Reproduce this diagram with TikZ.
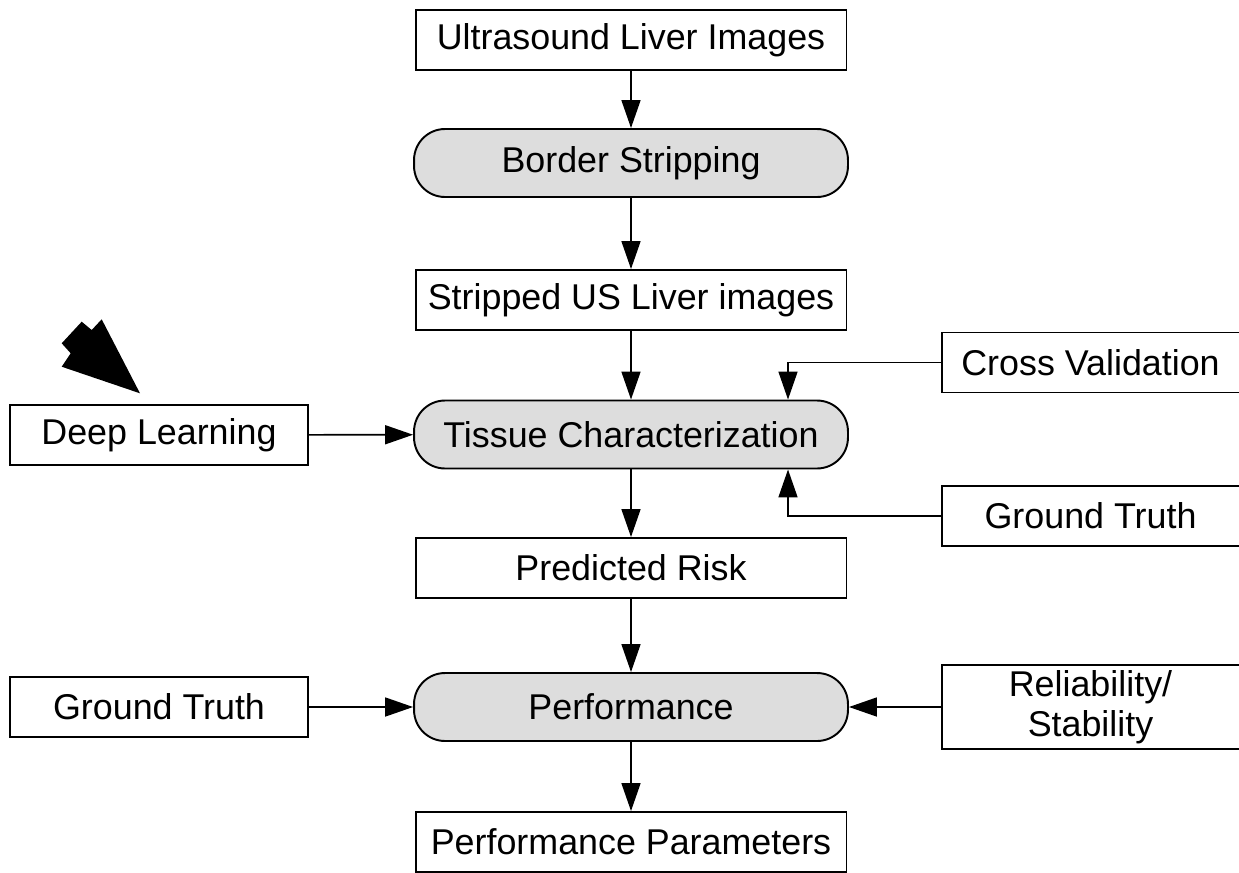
\documentclass[tikz,border=0pt]{standalone}
\usepackage{fontspec}
\setmainfont{Liberation Sans}
\usetikzlibrary{arrows.meta,calc}
\definecolor{procgray}{RGB}{221,221,221}
\tikzset{
  boxnode/.style={draw=black, line width=1.1pt, fill=white, minimum width=8.62cm, minimum height=1.2cm, inner sep=0pt, font=\fontsize{20.4}{23}\selectfont},
  sidebox/.style={boxnode, minimum width=5.96cm},
  procnode/.style={draw=black, line width=1.1pt, fill=procgray, rounded corners=0.62cm, minimum width=8.68cm, minimum height=1.36cm, inner sep=0pt, font=\fontsize{20.4}{23}\selectfont},
  arr/.style={line width=0.95pt, -{Triangle[length=0.56cm, width=0.38cm]}}
}
\begin{document}
\begin{tikzpicture}[x=0.02cm, y=-0.02cm]
\useasboundingbox (0,0) rectangle (1239,872);
% main column
\node[boxnode] (U) at (631,40) {Ultrasound Liver Images};
\node[procnode] (B) at (631,163) {Border Stripping};
\node[boxnode] (S) at (631,300) {Stripped US Liver images};
\node[procnode] (T) at (631,434.5) {Tissue Characterization};
\node[boxnode] (P) at (631,568) {Predicted Risk};
\node[procnode] (F) at (631,707) {Performance};
\node[boxnode] (PP) at (631,842) {Performance Parameters};
% side boxes
\node[sidebox] (DL) at (159,435) {Deep Learning};
\node[sidebox] (GL) at (159,707) {Ground Truth};
\node[sidebox] (CV) at (1090.5,362.5) {Cross Validation};
\node[sidebox] (GR) at (1090.5,516) {Ground Truth};
\node[sidebox, minimum height=1.68cm, align=center] (RS) at (1090.5,707) {Reliability/\\Stability};
\coordinate (kx) at (788,0);
% connectors
\draw[arr] (U) -- (B);
\draw[arr] (B) -- (S);
\draw[arr] (S) -- (T);
\draw[arr] (T) -- (P);
\draw[arr] (P) -- (F);
\draw[arr] (F) -- (PP);
\draw[arr] (DL) -- (T);
\draw[arr] (GL) -- (F);
\draw[arr] (RS) -- (F);
\draw[arr] (CV.west) -| (kx |- T.north);
\draw[arr] (GR.west) -| (kx |- T.south);
% black pointer shape
\fill[black] (61.7,343.3) -- (81.7,321.7) -- (91.7,330) -- (101.7,319.3) -- (140,393.3) -- (61.7,366.7) -- (70.7,353.3) -- cycle;
\end{tikzpicture}
\end{document}
